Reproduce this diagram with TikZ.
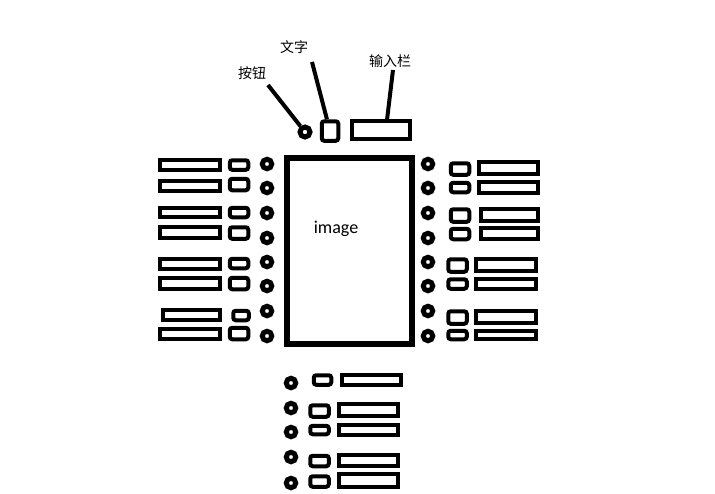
\documentclass[tikz,border=0pt]{standalone}
\usepackage{fontspec}
\newfontfamily\cjk{Noto Sans CJK SC}
\newfontfamily\labfont{Carlito}
\tikzset{
  wide/.style={draw=black,line width=4pt,inner sep=0pt,fill=white},
  small/.style={draw=black,line width=4pt,inner sep=0pt,rounded corners=2.5pt,fill=white},
  dot/.style={draw=black,line width=5pt,circle,inner sep=0pt,minimum size=9.5pt,fill=white},
  callout/.style={line width=4pt,black},
  cjklab/.style={font=\cjk\fontsize{14pt}{16pt}\selectfont,inner sep=0pt}
}
% outer sizes given; the path is 3.5pt smaller
\newcommand\mywide[4]{\node[wide,minimum width={#3pt-3.5pt},minimum height={#4pt-2.5pt}] (#1) at (#2) {};}
\newcommand\mysmall[4]{\node[small,minimum width={#3pt-3.5pt},minimum height={#4pt-2.5pt}] (#1) at (#2) {};}
\newcommand\mycirc[2]{\node[dot] (#1) at (#2) {};}
\begin{document}
\begin{tikzpicture}[x=1pt,y=-1pt]
\useasboundingbox[fill=white] (0,0) rectangle (715,493);
% main image frame
\node[draw=black,line width=6pt,minimum width=125pt,minimum height=186pt,inner sep=0pt] (img) at (349.5,251) {};
\node[font=\labfont\fontsize{18pt}{20pt}\selectfont,inner sep=0pt] (imgtxt) at (336,229) {image};
% top widgets
\node[dot,minimum size=10pt] (btn) at (305,132) {};
\mysmall{txt}{330,131}{20}{22}
\mywide{inp}{381,130}{62}{20}
\node[cjklab] (l1) at (252,73) {按钮};
\node[cjklab] (l2) at (294,47) {文字};
\node[cjklab] (l3) at (390,61) {输入栏};
\coordinate (p1) at (268,85);
\coordinate (p2) at (312,62);
\coordinate (p3) at (393,70);
\coordinate (p3e) at (387,120);
\draw[callout] (p1) -- (btn);
\draw[callout] (p2) -- (txt);
\draw[callout] (p3) -- (p3e);
% left column
\mywide{lw1}{190,165}{64}{13}   \mysmall{ls1}{239,165}{22}{12}   \mycirc{lc1}{267,164}
\mywide{lw2}{190,186}{64}{13}   \mysmall{ls2}{239,184.5}{22}{14} \mycirc{lc2}{267,188}
\mywide{lw3}{190,212.5}{64}{12} \mysmall{ls3}{239,212.5}{22}{12} \mycirc{lc3}{267,213}
\mywide{lw4}{190,232.5}{64}{13} \mysmall{ls4}{239,233}{22}{14}   \mycirc{lc4}{267,238}
\mywide{lw5}{190,264}{64}{13}   \mysmall{ls5}{239,263.5}{22}{12} \mycirc{lc5}{267,262}
\mywide{lw6}{190,283.5}{64}{13} \mysmall{ls6}{239,283.5}{22}{14} \mycirc{lc6}{267,286}
\mywide{lw7}{191.5,315}{61}{12} \mysmall{ls7}{241,315.5}{19}{12} \mycirc{lc7}{267,311}
\mywide{lw8}{190,334}{64}{13}   \mysmall{ls8}{239,333.5}{22}{14} \mycirc{lc8}{267,336}
% right column
\mycirc{rc1}{428,164} \mysmall{rs1}{460,169}{22}{14}   \mywide{rw1}{508.5,168}{63}{15}
\mycirc{rc2}{428,188} \mysmall{rs2}{460,187.5}{22}{12} \mywide{rw2}{508.5,187.5}{63}{13}
\mycirc{rc3}{428,213} \mysmall{rs3}{460,215.5}{22}{15} \mywide{rw3}{509.5,215}{61}{15}
\mycirc{rc4}{428,238} \mysmall{rs4}{460,234}{22}{13}   \mywide{rw4}{509.5,233.5}{61}{13}
\mycirc{rc5}{428,262} \mysmall{rs5}{457.5,265.5}{22}{15} \mywide{rw5}{506,265}{63}{15}
\mycirc{rc6}{428,286} \mysmall{rs6}{457.5,284}{22}{12} \mywide{rw6}{506,284}{63}{13}
\mycirc{rc7}{428,311} \mysmall{rs7}{457.5,317.5}{22}{15} \mywide{rw7}{506,317}{63}{15}
\mycirc{rc8}{428,336} \mysmall{rs8}{457.5,335}{22}{11} \mywide{rw8}{506,335}{63}{11}
% bottom column
\mycirc{bc1}{291,383} \mysmall{bs1}{322.5,380}{21}{12}   \mywide{bw1}{371.5,380}{63}{13}
\mycirc{bc2}{291,408} \mysmall{bs2}{319.5,411}{22}{14}   \mywide{bw2}{368.5,410}{63}{15}
\mycirc{bc3}{291,432} \mysmall{bs3}{319.5,430}{22}{11}   \mywide{bw3}{368.5,430}{63}{13}
\mycirc{bc4}{291,457} \mysmall{bs4}{319.5,461}{22}{13}   \mywide{bw4}{368.5,460.5}{63}{14}
\mycirc{bc5}{291,483} \mysmall{bs5}{319.5,481.5}{22}{13} \mywide{bw5}{368.5,480.5}{63}{15}
\end{tikzpicture}
\end{document}
